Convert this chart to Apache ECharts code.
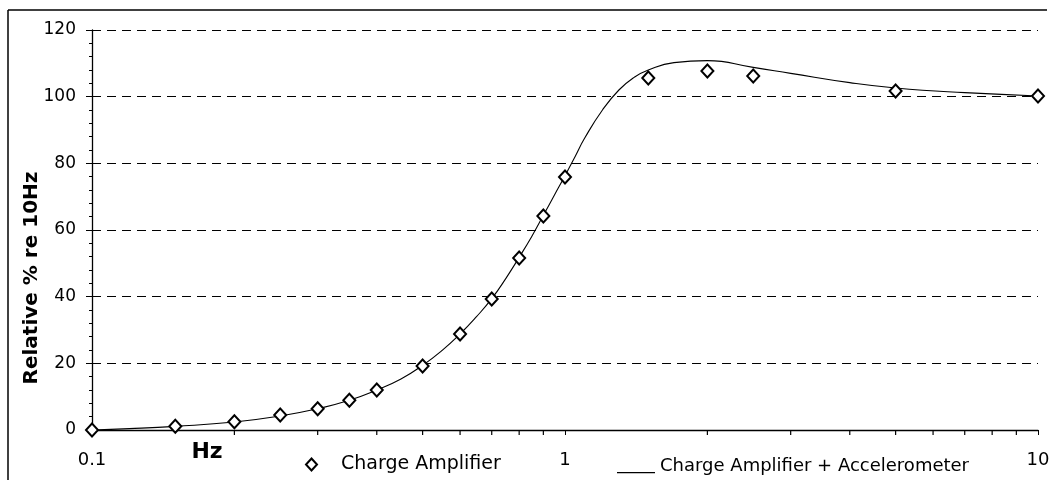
<!DOCTYPE html>
<html>
<head>
<meta charset="utf-8">
<script src="https://cdn.jsdelivr.net/npm/echarts@6/dist/echarts.min.js"></script>
<style>html,body{margin:0;padding:0;background:#fff;}#c{width:1051px;height:480px;}</style>
</head>
<body>
<div id="c"></div>
<script>
// Measured points (Charge Amplifier)
const pointFreq = [0.1, 0.15, 0.2, 0.25, 0.3, 0.35, 0.4, 0.5, 0.6, 0.7, 0.8, 0.9, 1.0, 1.5, 2.0, 2.5, 5, 10];
const pointVal  = [0, 1.1, 2.5, 4.5, 6.4, 8.9, 12, 19.2, 28.8, 39.3, 51.6, 64.2, 75.9, 105.6, 107.7, 106.2, 101.7, 100.2];
// Curve (Charge Amplifier + Accelerometer)
const curveFreq = [0.1, 0.12, 0.15, 0.2, 0.25, 0.3, 0.35, 0.4, 0.45, 0.5, 0.55, 0.6, 0.65, 0.7, 0.75, 0.8, 0.85, 0.9, 0.95, 1.0, 1.05, 1.1, 1.2, 1.3, 1.4, 1.5, 1.7, 2.0, 2.5, 3, 4, 5, 7, 10];
const curveVal  = [0, 0.4, 1.1, 2.4, 4.2, 6.4, 8.9, 12, 15.3, 19.4, 23.9, 28.8, 34, 39.4, 45.5, 51.8, 58, 64.4, 70.5, 76.3, 82, 87.5, 96, 102, 105.8, 108, 110.2, 110.8, 108.8, 107, 104.2, 102.6, 101.2, 100.2];
// Axis ticks
const xMinorTicks = [0.2, 0.3, 0.4, 0.5, 0.6, 0.7, 0.8, 0.9, 2, 3, 4, 5, 6, 7, 8, 9];
const seriesNames = ['Charge Amplifier', 'Charge Amplifier + Accelerometer'];

const chart = echarts.init(document.getElementById('c'), null, {renderer: 'canvas'});
const FONT = 'DejaVu Sans';
const option = {
  animation: false,
  backgroundColor: '#fff',
  grid: {left: 92, right: 13, top: 30, bottom: 50, containLabel: false, outerBoundsMode: 'none'},
  legend: [
    {
      data: [seriesNames[0]], left: 305, top: 455, padding: 0, selectedMode: false,
      icon: 'diamond', itemWidth: 11, itemHeight: 12,
      itemStyle: {color: '#fff', borderColor: '#000', borderWidth: 2},
      textStyle: {fontFamily: FONT, fontSize: 19, color: '#000', padding: [0, 0, 0, 19]}
    },
    {
      data: [seriesNames[1]], left: 617, top: 457, padding: 0, selectedMode: false,
      icon: 'path://M0,0 L40,0 L40,0.01 Z M0,14 L40,14 L40,15.5 L0,15.5 Z', itemWidth: 38, itemHeight: 15,
      itemStyle: {color: '#000', borderWidth: 0},
      textStyle: {fontFamily: FONT, fontSize: 18, color: '#000'}
    }
  ],
  xAxis: {
    type: 'log', logBase: 10, min: 0.1, max: 10,
    axisLine: {lineStyle: {color: '#000', width: 1.3}},
    axisTick: {show: true, length: 5, lineStyle: {color: '#000'}},
    axisLabel: {fontFamily: FONT, fontSize: 18, color: '#000', margin: 21},
    splitLine: {show: false},
    name: 'Hz', nameLocation: 'middle', nameGap: 11, nameMoveOverlap: false,
    nameTextStyle: {fontFamily: FONT, fontSize: 22, fontWeight: 'bold', color: '#000', padding: [0, 716, 0, 0], verticalAlign: 'top'}
  },
  yAxis: {
    type: 'value', min: 0, max: 120, interval: 20,
    axisLine: {show: true, lineStyle: {color: '#000', width: 1.3}},
    axisTick: {show: true, length: 6, lineStyle: {color: '#000'}},
    minorTick: {show: true, splitNumber: 5, length: 3, lineStyle: {color: '#000'}},
    axisLabel: {fontFamily: FONT, fontSize: 17, color: '#000', margin: 16},
    splitLine: {show: true, lineStyle: {color: '#000', width: 1, type: [9, 6]}},
    name: 'Relative % re 10Hz', nameLocation: 'middle', nameRotate: 90, nameGap: 50, nameMoveOverlap: false,
    nameTextStyle: {fontFamily: FONT, fontSize: 20, fontWeight: 'bold', color: '#000', padding: [0, 96, 0, 0]}
  },
  graphic: [
    {type: 'line', shape: {x1: 8, y1: 10, x2: 8, y2: 480}, style: {stroke: '#000', lineWidth: 1.5}, silent: true},
    {type: 'line', shape: {x1: 8, y1: 10, x2: 1047, y2: 10}, style: {stroke: '#000', lineWidth: 1.5}, silent: true}
  ],
  series: [
    {
      name: seriesNames[0], type: 'scatter',
      data: pointFreq.map((f, i) => [f, pointVal[i]]),
      symbol: 'diamond', symbolSize: [12, 13],
      itemStyle: {color: '#fff', borderColor: '#000', borderWidth: 2, opacity: 1},
      z: 5
    },
    {
      name: seriesNames[1], type: 'line',
      data: curveFreq.map((f, i) => [f, curveVal[i]]),
      smooth: true, showSymbol: false, symbol: 'none',
      color: '#000',
      lineStyle: {color: '#000', width: 1.1},
      z: 3
    },
    {
      name: 'xMinorTicks', type: 'custom', coordinateSystem: 'cartesian2d', xAxisIndex: 0, yAxisIndex: 0,
      silent: true, clip: false,
      data: xMinorTicks.map(v => [v, 0]),
      encode: {x: 0, y: 1},
      renderItem: function (params, api) {
        const p = api.coord([api.value(0), api.value(1)]);
        return {type: 'line', shape: {x1: p[0], y1: p[1], x2: p[0], y2: p[1] + 5}, style: {stroke: '#000', lineWidth: 1.2, fill: null}};
      },
      z: 10
    }
  ]
};
chart.setOption(option);
</script>
</body>
</html>
